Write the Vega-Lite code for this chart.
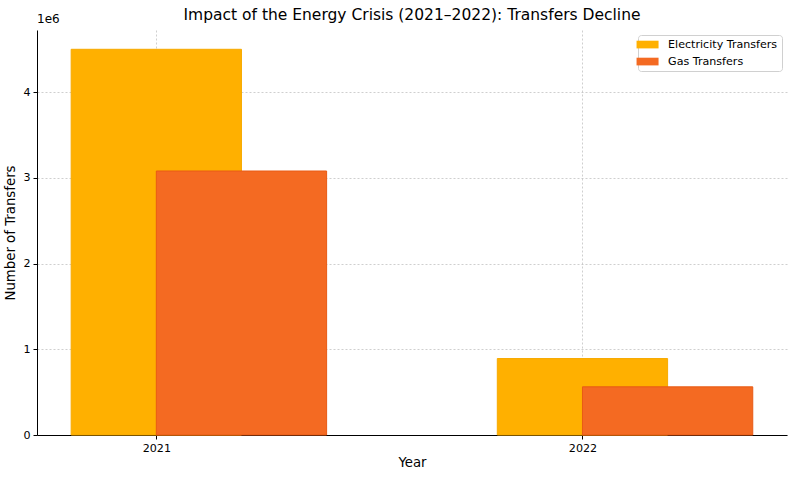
{
  "$schema": "https://vega.github.io/schema/vega-lite/v6.json",
  "width": 750,
  "height": 405,
  "autosize": {"type": "none"},
  "padding": {"left": 37, "top": 30, "right": 8, "bottom": 42},
  "background": "white",
  "title": {"text": "Impact of the Energy Crisis (2021–2022): Transfers Decline", "font": "DejaVu Sans", "fontSize": 15.5, "fontWeight": "normal", "color": "black", "offset": -10},
  "config": {
    "view": {"stroke": null},
    "font": "DejaVu Sans",
    "axis": {
      "domainColor": "black", "domainWidth": 1, "tickColor": "black", "tickSize": 4,
      "labelColor": "black", "labelFont": "DejaVu Sans", "labelFontSize": 11.1,
      "titleFont": "DejaVu Sans", "titleFontSize": 13.3, "titleFontWeight": "normal", "titleColor": "black",
      "gridColor": "#bbbbbb", "gridDash": [2, 2], "gridOpacity": 0.7, "zindex": 1
    }
  },
  "datasets": {
    "transfers": [
      {"year": 2021, "type": "Electricity Transfers", "value": 4500000},
      {"year": 2022, "type": "Electricity Transfers", "value": 892000},
      {"year": 2021, "type": "Gas Transfers", "value": 3080000},
      {"year": 2022, "type": "Gas Transfers", "value": 562000}
    ]
  },
  "data": {"name": "transfers"},
  "layer": [
    {
      "transform": [{"filter": "datum.type === 'Electricity Transfers'"}],
      "mark": {"type": "bar", "width": 170.3, "stroke": "#F7AA00", "strokeWidth": 1},
      "encoding": {
        "x": {"field": "year", "type": "quantitative", "scale": {"domain": [2020.72, 2022.48], "nice": false, "zero": false, "padding": 0},
              "axis": {"values": [2021, 2022], "labelExpr": "datum.value", "title": "Year", "titleY": 20, "grid": true, "labelPadding": 3}},
        "y": {"field": "value", "type": "quantitative", "scale": {"domain": [0, 4725000], "nice": false, "padding": 0},
              "axis": {"values": [0, 1000000, 2000000, 3000000, 4000000], "labelExpr": "datum.value / 1000000", "title": "Number of Transfers", "grid": true, "labelPadding": 3, "titlePadding": 5}},
        "color": {"field": "type", "type": "nominal",
                  "scale": {"domain": ["Electricity Transfers", "Gas Transfers"], "range": ["#FFB000", "#F46A22"]},
                  "legend": {"title": null, "orient": "top-right", "offset": 5, "symbolType": "M-2,-0.7H2V0.7H-2Z", "symbolSize": 121, "symbolOpacity": 1,
                             "labelFont": "DejaVu Sans", "labelFontSize": 11.1, "labelColor": "black", "labelOffset": 15, "strokeColor": "#d0d0d0", "fillColor": "white", "cornerRadius": 3, "padding": 4, "rowPadding": 5, "symbolStrokeWidth": 0}}
      }
    },
    {
      "transform": [{"filter": "datum.type === 'Gas Transfers'"}],
      "mark": {"type": "bar", "width": 170.3, "xOffset": 85.15, "stroke": "#E85A14", "strokeWidth": 1},
      "encoding": {
        "x": {"field": "year", "type": "quantitative"},
        "y": {"field": "value", "type": "quantitative"},
        "color": {"field": "type", "type": "nominal"}
      }
    },
    {
      "data": {"values": [{"label": "1e6"}]},
      "mark": {"type": "text", "align": "left", "baseline": "bottom", "dy": -4, "fontSize": 12, "font": "DejaVu Sans", "color": "black"},
      "encoding": {
        "x": {"datum": 2020.72, "type": "quantitative"},
        "y": {"datum": 4725000, "type": "quantitative"},
        "text": {"field": "label"}
      }
    }
  ]
}
